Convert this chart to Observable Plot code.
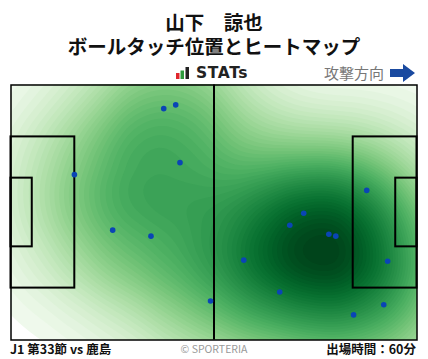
<!DOCTYPE html>
<html>
<head>
<meta charset="utf-8">
<script src="https://cdn.jsdelivr.net/npm/d3@7"></script>
<script src="https://cdn.jsdelivr.net/npm/@observablehq/plot@0.6"></script>
<style>
  html, body { margin: 0; padding: 0; background: #fff; }
  body { width: 428px; height: 359px; position: relative; overflow: hidden; font-family: "Noto Sans CJK JP", "Noto Sans", sans-serif; }
  .t { position: absolute; left: 0; top: 10px; width: 428px; text-align: center; font-weight: bold; font-size: 19.5px; color: #111; line-height: 24px; }
  #logo { position: absolute; left: 176px; top: 64px; height: 18px; display: flex; align-items: center; }
  #logo span { font-family: "DejaVu Sans", sans-serif; font-weight: bold; font-size: 15.5px; color: #222; margin-left: 6px; letter-spacing: 0.6px; }
  #dir { position: absolute; right: 13px; top: 62px; display: flex; align-items: center; color: #777; font-size: 15px; }
  #chart { position: absolute; left: 0; top: 83px; }
  .f { position: absolute; top: 340px; font-size: 12.5px; font-weight: bold; color: #111; line-height: 18px; }
</style>
</head>
<body>
<div class="t">山下　諒也<br>ボールタッチ位置とヒートマップ</div>
<div id="logo">
  <svg width="14" height="12" viewBox="0 0 14 12"><rect x="0" y="6" width="3.5" height="6" fill="#e0262c"/><rect x="4.5" y="3.5" width="3.5" height="8.5" fill="#2c9a3c"/><rect x="9.5" y="0" width="3.5" height="12" fill="#222"/></svg>
  <span>STATs</span>
</div>
<div id="dir">攻撃方向<svg width="25" height="18" viewBox="0 0 25 18" style="margin-left:6px"><path d="M0 5 H13 V0 L25 9 L13 18 V13 H0 Z" fill="#1a4aa0"/></svg></div>
<div id="chart"></div>
<div class="f" style="left:10px">J1 第33節 vs 鹿島</div>
<div class="f" style="left:0;width:428px;text-align:center;font-weight:normal;font-size:10.5px;color:#999;top:340px">© SPORTERIA</div>
<div class="f" style="right:12px">出場時間：60分</div>
<script>
// Ball touch positions in pitch metres (x: 0-105 toward attack, y: 0-68 from top)
const touchX = [39.5, 42.6, 43.7, 16.4, 26.3, 36.2, 51.6, 92.0, 75.7, 72.1, 82.2, 84.0, 60.2, 97.4, 69.5, 96.4, 88.6];
const touchY = [6.3, 5.3, 20.7, 23.9, 38.7, 40.3, 57.6, 28.1, 34.2, 37.4, 39.8, 40.3, 46.7, 47.0, 55.2, 58.6, 61.3];
const touches = touchX.map((x, i) => ({x, y: touchY[i]}));

// Pitch markings (metres)
const pitchLength = 105, pitchWidth = 68;
const boxes = [
  {x1: 0, x2: 16.5, y1: 13.84, y2: 54.16},
  {x1: 0, x2: 5.5, y1: 24.84, y2: 43.16},
  {x1: 88.5, x2: 105, y1: 13.84, y2: 54.16},
  {x1: 99.5, x2: 105, y1: 24.84, y2: 43.16}
];
const halfway = [52.5];

const chart = Plot.plot({
  width: 428,
  height: 258,
  marginLeft: 10.5,
  marginRight: 11.5,
  marginTop: 1.5,
  marginBottom: 1.5,
  x: {domain: [0, pitchLength], axis: null},
  y: {domain: [0, pitchWidth], reverse: true, axis: null},
  color: {scheme: "greens", type: "pow", exponent: 0.75},
  marks: [
    Plot.density(touches, {x: "x", y: "y", fill: "density", bandwidth: 55, thresholds: 50, clip: true}),
    Plot.rect(boxes, {x1: "x1", x2: "x2", y1: "y1", y2: "y2", fill: "none", stroke: "#000", strokeWidth: 2}),
    Plot.ruleX(halfway, {stroke: "#000", strokeWidth: 2}),
    Plot.dot(touches, {x: "x", y: "y", r: 2.8, fill: "#0a45b5", stroke: "none"}),
    Plot.frame({stroke: "#000", strokeWidth: 1.5})
  ]
});
document.getElementById("chart").appendChild(chart);
</script>
</body>
</html>
